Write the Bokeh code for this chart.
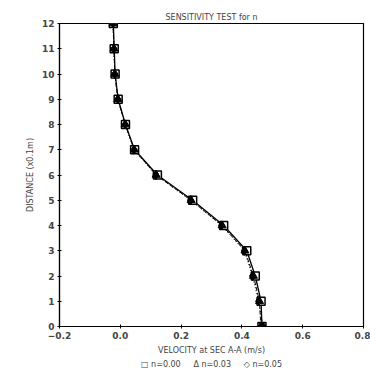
from bokeh.plotting import figure
from bokeh.models import FixedTicker, Range1d, Title
from bokeh.embed import file_html
from bokeh.resources import INLINE

distance = [0, 1, 2, 3, 4, 5, 6, 7, 8, 9, 10, 11, 12]
vel_n000 = [0.466, 0.463, 0.444, 0.416, 0.340, 0.238, 0.122, 0.047, 0.017, -0.007, -0.017, -0.020, -0.023]
vel_n003 = [0.462, 0.458, 0.438, 0.410, 0.335, 0.233, 0.118, 0.046, 0.016, -0.008, -0.018, -0.021, -0.024]
vel_n005 = [0.470, 0.455, 0.435, 0.408, 0.333, 0.231, 0.117, 0.045, 0.016, -0.008, -0.018, -0.021, -0.024]
x_ticks = [-0.2, 0.0, 0.2, 0.4, 0.6, 0.8]
x_tick_labels = ["\u22120.2", "0.0", "0.2", "0.4", "0.6", "0.8"]
y_ticks = list(range(0, 13))
NB = "\u00a0"
legend_text = ("\u25a1" + NB + "n=0.00" + NB * 5 + "\u0394" + NB + "n=0.03"
               + NB * 5 + "\u25c7" + NB + "n=0.05")

FONT = "DejaVu Sans"

p = figure(width=370, height=379, frame_width=304, frame_height=303,
           x_range=Range1d(-0.2, 0.8), y_range=Range1d(0, 12),
           output_backend="svg", toolbar_location=None,
           min_border_left=59, min_border_right=7, min_border_top=23, min_border_bottom=53)
p.background_fill_color = "white"
p.border_fill_color = "white"
p.grid.visible = False
p.outline_line_color = "black"
p.outline_line_width = 1.2

p.title.text = "SENSITIVITY TEST for n"
p.title.align = "center"
p.title.text_font = FONT
p.title.text_font_size = "8px"
p.title.text_font_style = "normal"
p.title.offset = 0
p.title.standoff = 4

p.xaxis.ticker = FixedTicker(ticks=x_ticks)
p.xaxis.major_label_overrides = {t: l for t, l in zip(x_ticks, x_tick_labels)}
p.yaxis.ticker = FixedTicker(ticks=y_ticks)
p.xaxis.axis_label = "VELOCITY at SEC A-A (m/s)"
p.yaxis.axis_label = "DISTANCE (x0.1m)"
for ax in (p.xaxis, p.yaxis):
    ax.minor_tick_line_color = None
    ax.major_tick_in = 2
    ax.major_tick_out = 2
    ax.axis_line_width = 1.2
    ax.major_label_text_font = FONT
    ax.major_label_text_font_size = "9px"
    ax.major_label_text_font_style = "bold"
    ax.axis_label_text_font = FONT
    ax.axis_label_text_font_size = "8px"
    ax.axis_label_text_font_style = "normal"
    ax.major_label_standoff = 3
    ax.axis_label_standoff = 4

p.add_layout(Title(text=legend_text, align="center", text_font=FONT,
                   text_font_size="8px", text_font_style="normal", standoff=0), "below")

p.line(vel_n005, distance, line_color="black", line_width=1, line_dash="1 2")
p.line(vel_n003, distance, line_color="black", line_width=1, line_dash="4 2")
p.line(vel_n000, distance, line_color="black", line_width=1.3)
p.scatter(vel_n000, distance, marker="square", size=8, line_color="black",
          fill_color="white", line_width=1.5)
p.scatter(vel_n003, distance, marker="triangle", size=8, line_color="black",
          fill_color="black", line_width=1)
p.scatter(vel_n005, distance, marker="diamond", size=9, line_color="black",
          fill_color="black", line_width=1)

open("out.html", "w").write(file_html(p, INLINE))
